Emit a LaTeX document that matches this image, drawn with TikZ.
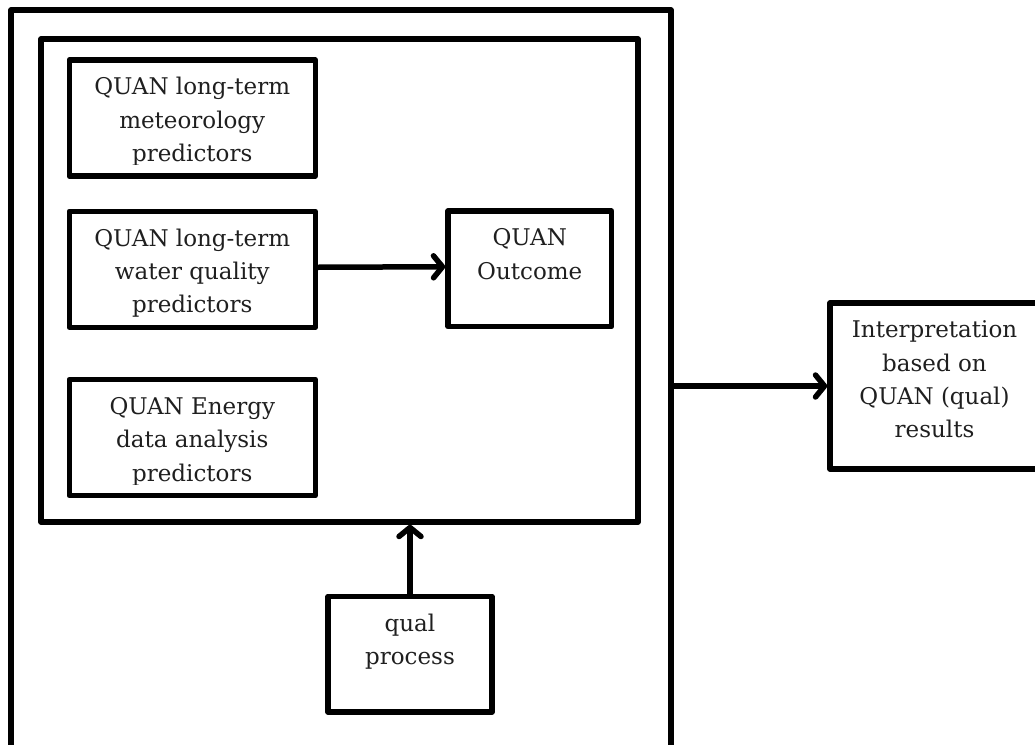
\documentclass[tikz,border=0pt]{standalone}
\usepackage{fontspec}
\setmainfont{DejaVu Serif}
\usetikzlibrary{arrows.meta}
\newcommand\firstlinestrut{\rule{0pt}{22pt}}
\begin{document}
\begin{tikzpicture}[x=1pt,y=-1pt,
  panel/.style={draw=black, line width=5.5pt, line join=round, rectangle, inner sep=0pt},
  boxtext/.style={font=\fontsize{23}{33.3}\selectfont, align=center, inner sep=0pt, anchor=north, text=black!88},
  link/.style={line width=5.5pt, line cap=round, -{Straight Barb[length=9pt,width=22pt,round]}}
]
\path[use as bounding box, clip] (0,0) rectangle (1035,744);

% frames
\node[panel, minimum width=660pt, minimum height=750pt] (outer) at (341,385) {};
\node[panel, minimum width=597pt, minimum height=483pt] (inner) at (339.5,280.5) {};

% predictor boxes
\node[panel, minimum width=246pt, minimum height=116pt] (b1) at (192.25,118) {};
\node[panel, minimum width=246pt, minimum height=116pt] (b2) at (192.25,269.25) {};
\node[panel, minimum width=246pt, minimum height=116pt] (b3) at (192.25,437.5) {};

% outcome, qual process, interpretation
\node[panel, minimum width=163.5pt, minimum height=115.5pt] (out) at (529.75,268.75) {};
\node[panel, minimum width=164pt, minimum height=115.5pt] (qual) at (410,654.25) {};
\node[panel, minimum width=209pt, minimum height=166pt] (interp) at (934.5,386) {};

% box texts (third line cut just below its baseline)
\begin{scope}
  \clip (b1.north west) rectangle ([yshift=14pt]b1.south east);
  \node[boxtext] (t1) at ([yshift=-15.5pt]b1.north) {\firstlinestrut QUAN long-term\\meteorology\\predictors};
\end{scope}
\begin{scope}
  \clip (b2.north west) rectangle ([yshift=14pt]b2.south east);
  \node[boxtext] (t2) at ([yshift=-15.5pt]b2.north) {\firstlinestrut QUAN long-term\\water quality\\predictors};
\end{scope}
\begin{scope}
  \clip (b3.north west) rectangle ([yshift=14pt]b3.south east);
  \node[boxtext] (t3) at ([yshift=-15.5pt]b3.north) {\firstlinestrut QUAN Energy\\data analysis\\predictors};
\end{scope}
\node[boxtext] (tout) at ([yshift=-15.5pt]out.north) {\firstlinestrut QUAN\\Outcome};
\node[boxtext] (tqual) at ([yshift=-15.5pt]qual.north) {\firstlinestrut qual\\process};
\node[boxtext] (tinterp) at ([yshift=-15.5pt]interp.north) {\firstlinestrut Interpretation\\based on\\QUAN (qual)\\results};

% connectors
\draw[link] ([yshift=2pt]b2.east) -- ([yshift=2pt]out.west);
\draw[link] (qual.north) -- (qual.north |- inner.south);
\draw[link] (outer.east |- interp.west) -- (interp.west);
\end{tikzpicture}
\end{document}
